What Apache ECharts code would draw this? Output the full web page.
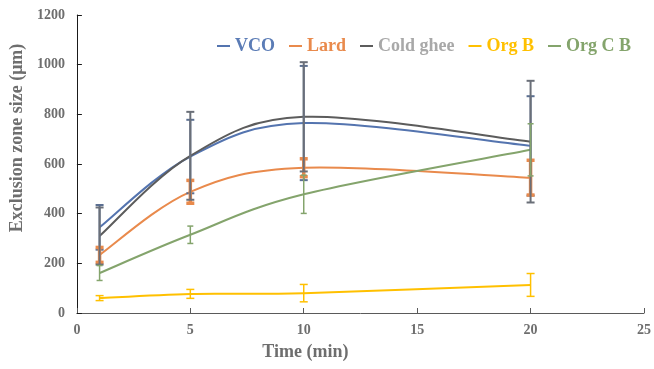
<!DOCTYPE html>
<html><head><meta charset="utf-8">
<script src="https://cdn.jsdelivr.net/npm/echarts@6/dist/echarts.min.js"></script>
<style>html,body{margin:0;padding:0;background:#fff}#c{width:654px;height:369px}</style>
</head><body><div id="c"></div>
<script>
const times = [1, 5, 10, 20];
const seriesNames = ['VCO', 'Lard', 'Cold ghee', 'Org B', 'Org C B'];
const vco = [345, 630, 765, 673];
const vcoErr = [90, 148, 230, 200];
const lard = [234, 488, 585, 545];
const lardErr = [30, 46, 36, 70];
const coldGhee = [310, 633, 790, 690];
const coldGheeErr = [115, 177, 220, 245];
const orgB = [60, 77, 80, 113];
const orgBErr = [10, 18, 35, 46];
const orgCB = [161, 315, 478, 657];
const orgCBErr = [30, 35, 77, 105];
const xTicks = [0, 5, 10, 15, 20, 25];
const yTicks = [0, 200, 400, 600, 800, 1000, 1200];

const lineColors = ['#5474AF', '#E98A4C', '#5C5C5C', '#FFC000', '#84A46C'];
const legendTextColors = ['#5B7CB6', '#E98A4C', '#A8A8A8', '#FFC000', '#84A46C'];
const barColors = ['#5B6F91', '#E98A4C', '#6A6F78', '#FFC000', '#84A46C'];
const barWidths = [2, 3.5, 2, 1.5, 1.5];
const capHalf = [4, 4, 4, 4, 3];
const vals = [vco, lard, coldGhee, orgB, orgCB];
const errs = [vcoErr, lardErr, coldGheeErr, orgBErr, orgCBErr];

const font = '"Liberation Serif", "Times New Roman", serif';
const series = [];
seriesNames.forEach((n, i) => {
  series.push({
    name: n, type: 'custom', z: 2,
    data: times.map((t, k) => [t, vals[i][k]]),
    encode: { x: 0, y: 1 },
    itemStyle: { color: lineColors[i] },
    renderItem: function (params, api) {
      const k = params.dataIndex;
      const N = times.length;
      if (k >= N - 1) return null;
      const P = j => api.coord([times[Math.max(0, Math.min(N - 1, j))], vals[i][Math.max(0, Math.min(N - 1, j))]]);
      const p0 = P(k - 1), p1 = P(k), p2 = P(k + 1), p3 = P(k + 2);
      const t = 1 / 6;
      return {
        type: 'bezierCurve',
        shape: {
          x1: p1[0], y1: p1[1], x2: p2[0], y2: p2[1],
          cpx1: p1[0] + (p2[0] - p0[0]) * t, cpy1: p1[1] + (p2[1] - p0[1]) * t,
          cpx2: p2[0] - (p3[0] - p1[0]) * t, cpy2: p2[1] - (p3[1] - p1[1]) * t
        },
        style: { stroke: lineColors[i], lineWidth: 2, fill: null }
      };
    }
  });
});
seriesNames.forEach((n, i) => {
  series.push({
    name: n, type: 'custom', z: 3,
    data: times.map((t, k) => [t, vals[i][k] - errs[i][k], vals[i][k] + errs[i][k]]),
    encode: { x: 0, y: [1, 2] },
    itemStyle: { color: lineColors[i] },
    renderItem: function (params, api) {
      const lo = api.coord([api.value(0), api.value(1)]);
      const hi = api.coord([api.value(0), api.value(2)]);
      const h = capHalf[i];
      const st = { stroke: barColors[i], lineWidth: barWidths[i] };
      return { type: 'group', children: [
        { type: 'line', shape: { x1: lo[0], y1: lo[1], x2: hi[0], y2: hi[1] }, style: st },
        { type: 'line', shape: { x1: lo[0] - h, y1: lo[1], x2: lo[0] + h, y2: lo[1] }, style: st },
        { type: 'line', shape: { x1: hi[0] - h, y1: hi[1], x2: hi[0] + h, y2: hi[1] }, style: st }
      ]};
    }
  });
});

const chart = echarts.init(document.getElementById('c'));
chart.setOption({
  animation: false,
  backgroundColor: '#fff',
  grid: { left: 73, right: 6, top: 15, bottom: 56, containLabel: false },
  legend: {
    data: seriesNames.map((n, i) => ({ name: n, textStyle: { color: legendTextColors[i] }, itemStyle: { color: lineColors[i] } })),
    top: 32, left: 212, itemGap: 14, itemWidth: 13, itemHeight: 2, icon: 'rect',
    textStyle: { fontFamily: font, fontWeight: 'bold', fontSize: 18 }
  },
  xAxis: {
    type: 'value', min: 0, max: 25, interval: 5,
    name: 'Time (min)', nameLocation: 'middle', nameGap: 30,
    nameTextStyle: { fontFamily: font, fontWeight: 'bold', fontSize: 18, color: '#6E6E6E', padding: [0, 110, 0, 0] },
    axisLine: { lineStyle: { color: '#5A5A5A', width: 1 } },
    axisTick: { show: true, inside: true, length: 5, lineStyle: { color: '#5A5A5A' } },
    axisLabel: { fontFamily: font, fontWeight: 'bold', fontSize: 14, color: '#6E6E6E', margin: 10 },
    splitLine: { show: false }
  },
  yAxis: {
    type: 'value', min: 0, max: 1200, interval: 200,
    name: 'Exclusion zone size (μm)', nameLocation: 'middle', nameGap: 39,
    nameTextStyle: { fontFamily: font, fontWeight: 'bold', fontSize: 18, color: '#6E6E6E', padding: [0, 0, 0, 52] },
    axisLine: { show: true, lineStyle: { color: '#1A1A1A', width: 1 } },
    axisTick: { show: true, inside: true, length: 5, lineStyle: { color: '#1A1A1A' } },
    axisLabel: { fontFamily: font, fontWeight: 'bold', fontSize: 14, color: '#6E6E6E', margin: 12, formatter: v => String(v) },
    splitLine: { show: false }
  },
  series: series
});
</script></body></html>
